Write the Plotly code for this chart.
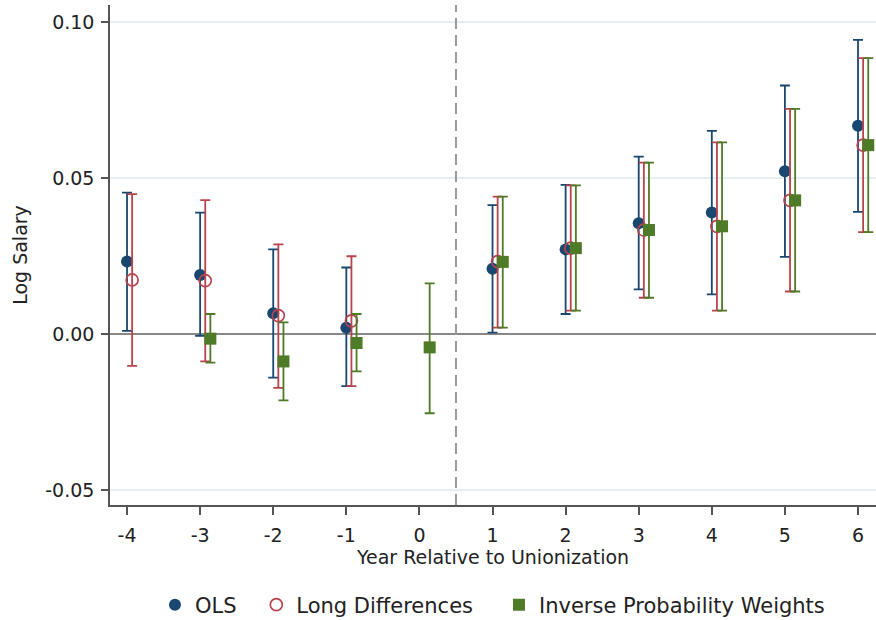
import plotly.graph_objects as go

years = [-4, -3, -2, -1, 0, 1, 2, 3, 4, 5, 6]
x_tick_labels = ["-4", "-3", "-2", "-1", "0", "1", "2", "3", "4", "5", "6"]
y_tick_vals = [-0.05, 0.0, 0.05, 0.10]
y_tick_labels = ["-0.05", "0.00", "0.05", "0.10"]

# OLS (no estimate at year 0)
ols_years = [-4, -3, -2, -1, 1, 2, 3, 4, 5, 6]
ols_est = [0.0232, 0.0189, 0.0066, 0.0020, 0.0209, 0.0271, 0.0355, 0.0389, 0.0521, 0.0667]
ols_hi = [0.0453, 0.0389, 0.0271, 0.0213, 0.0413, 0.0478, 0.0568, 0.0651, 0.0796, 0.0942]
ols_lo = [0.0010, -0.0006, -0.0140, -0.0167, 0.0004, 0.0064, 0.0143, 0.0127, 0.0247, 0.0391]

# Long differences
ld_years = [-4, -3, -2, -1, 1, 2, 3, 4, 5, 6]
ld_est = [0.0173, 0.0171, 0.0059, 0.0042, 0.0232, 0.0275, 0.0333, 0.0345, 0.0428, 0.0605]
ld_hi = [0.0448, 0.0429, 0.0287, 0.0249, 0.0440, 0.0476, 0.0549, 0.0614, 0.0721, 0.0884]
ld_lo = [-0.0102, -0.0088, -0.0173, -0.0167, 0.0020, 0.0075, 0.0116, 0.0075, 0.0136, 0.0326]

# Inverse probability weights
ipw_years = [-3, -2, -1, 0, 1, 2, 3, 4, 5, 6]
ipw_est = [-0.0015, -0.0088, -0.0029, -0.0043, 0.0231, 0.0275, 0.0333, 0.0345, 0.0428, 0.0605]
ipw_hi = [0.0064, 0.0037, 0.0064, 0.0162, 0.0440, 0.0476, 0.0549, 0.0614, 0.0721, 0.0884]
ipw_lo = [-0.0092, -0.0213, -0.0120, -0.0254, 0.0020, 0.0075, 0.0116, 0.0075, 0.0136, 0.0326]

FONT = "DejaVu Sans, Arial, sans-serif"
C_OLS = "#1a476f"
C_LD = "#b8434c"
C_IPW = "#4f7a28"


def make_trace(name, yrs, est, hi, lo, offset, color, symbol, size, line_w, legend):
    return go.Scatter(
        x=[y + offset for y in yrs],
        y=est,
        mode="markers",
        name=name,
        legend=legend,
        marker=dict(symbol=symbol, size=size, color=color,
                    line=dict(color=color, width=line_w)),
        error_y=dict(type="data", symmetric=False,
                     array=[h - e for h, e in zip(hi, est)],
                     arrayminus=[e - l for e, l in zip(est, lo)],
                     color=color, thickness=1.8, width=5),
        cliponaxis=False,
    )


fig = go.Figure()
fig.add_trace(make_trace("OLS", ols_years, ols_est, ols_hi, ols_lo, 0.0,
                         C_OLS, "circle", 12, 0, "legend"))
fig.add_trace(make_trace("Long Differences", ld_years, ld_est, ld_hi, ld_lo, 0.07,
                         C_LD, "circle-open", 12, 1.7, "legend2"))
fig.add_trace(make_trace("Inverse Probability Weights", ipw_years, ipw_est, ipw_hi, ipw_lo, 0.14,
                         C_IPW, "square", 12, 0, "legend3"))

fig.add_shape(type="line", x0=0.5, x1=0.5, xref="x", y0=0, y1=1, yref="paper",
              line=dict(color="#999999", width=2, dash="11px,6px"), layer="above")

leg_common = dict(orientation="h", y=-0.2, yanchor="middle", xanchor="left",
                  font=dict(size=21), itemwidth=30, bgcolor="rgba(0,0,0,0)")

fig.update_layout(
    width=876, height=620,
    margin=dict(l=110, r=0, t=5, b=115, autoexpand=False),
    paper_bgcolor="white", plot_bgcolor="white",
    font=dict(family=FONT, size=19, color="#222222"),
    showlegend=True,
    legend=dict(x=0.0587, **leg_common),
    legend2=dict(x=0.191, **leg_common),
    legend3=dict(x=0.5078, **leg_common),
    xaxis=dict(
        range=[-4.233, 6.246], tickvals=years, ticktext=x_tick_labels,
        showgrid=False, zeroline=False,
        showline=True, linecolor="#555555", linewidth=1.5,
        ticks="outside", ticklen=8, tickwidth=1.5, tickcolor="#555555",
        ticklabelstandoff=4, automargin=False,
        title=dict(text="Year Relative to Unionization", standoff=5, font=dict(size=19)),
    ),
    yaxis=dict(
        range=[-0.0548, 0.1054], tickvals=y_tick_vals, ticktext=y_tick_labels,
        showgrid=True, gridcolor="#e6eef1", gridwidth=1.5,
        zeroline=True, zerolinecolor="#888888", zerolinewidth=1.6,
        showline=True, linecolor="#555555", linewidth=1.5,
        ticks="outside", ticklen=7, tickwidth=1.5, tickcolor="#555555",
        ticklabelstandoff=3, automargin=False,
        title=dict(text="Log Salary", standoff=13, font=dict(size=19)),
    ),
)

fig.write_html("out.html", config={"displayModeBar": False},
               post_script="document.body.style.margin='0';")
